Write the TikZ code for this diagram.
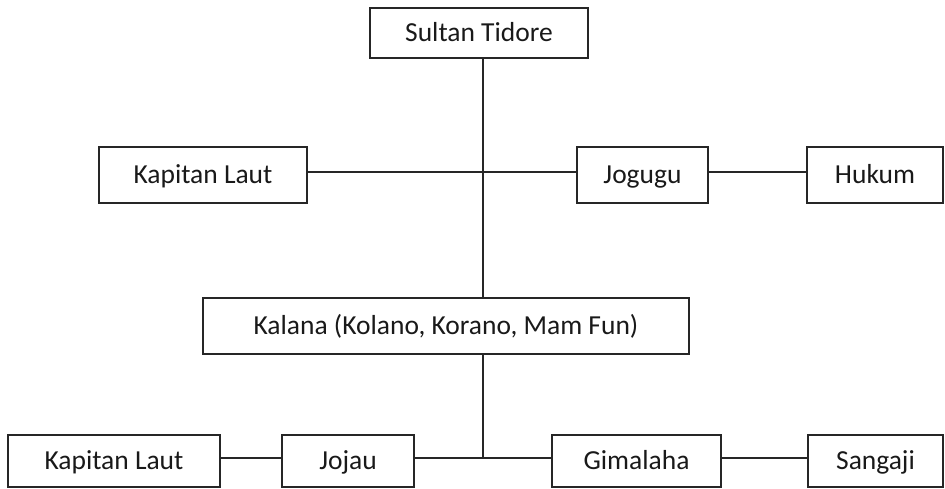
\documentclass[tikz,border=0pt]{standalone}
\usepackage{fontspec}
\setmainfont{Carlito}
\begin{document}
\begin{tikzpicture}[x=1pt,y=-1pt,
  box/.style={draw=black!85, line width=1.8pt, inner sep=0pt, font=\fontsize{27.5}{30}\selectfont, text=black!90, text height=17.7pt, text depth=0pt},
  conn/.style={draw=black!85, line width=1.5pt}]
\useasboundingbox (0,0) rectangle (945,489);
\node[box, minimum width=218pt, minimum height=50pt] (sultan) at (479,33) {Sultan Tidore};
\node[box, minimum width=208pt, minimum height=56pt] (kl1) at (203,175) {Kapitan Laut};
\node[box, minimum width=131pt, minimum height=56pt] (jogugu) at (642.5,175) {Jogugu};
\node[box, minimum width=136pt, minimum height=56pt] (hukum) at (875,175) {Hukum};
\node[box, minimum width=486pt, minimum height=56pt] (kalana) at (446,326) {Kalana (Kolano, Korano, Mam Fun)};
\node[box, minimum width=212pt, minimum height=52pt] (kl2) at (114,461) {Kapitan Laut};
\node[box, minimum width=132pt, minimum height=52pt] (jojau) at (348,461) {Jojau};
\node[box, minimum width=169pt, minimum height=52pt] (gimalaha) at (636.5,461) {Gimalaha};
\node[box, minimum width=135pt, minimum height=52pt] (sangaji) at (875.5,461) {Sangaji};
\coordinate (j1) at (483,172);
\coordinate (j2) at (483,458);
\draw[conn] (sultan.south -| j1) -- (kalana.north -| j1);
\draw[conn] (kl1.east |- j1) -- (jogugu.west |- j1);
\draw[conn] (jogugu.east |- j1) -- (hukum.west |- j1);
\draw[conn] (kalana.south -| j2) -- (j2);
\draw[conn] (jojau.east |- j2) -- (gimalaha.west |- j2);
\draw[conn] (kl2.east |- j2) -- (jojau.west |- j2);
\draw[conn] (gimalaha.east |- j2) -- (sangaji.west |- j2);
\end{tikzpicture}
\end{document}
